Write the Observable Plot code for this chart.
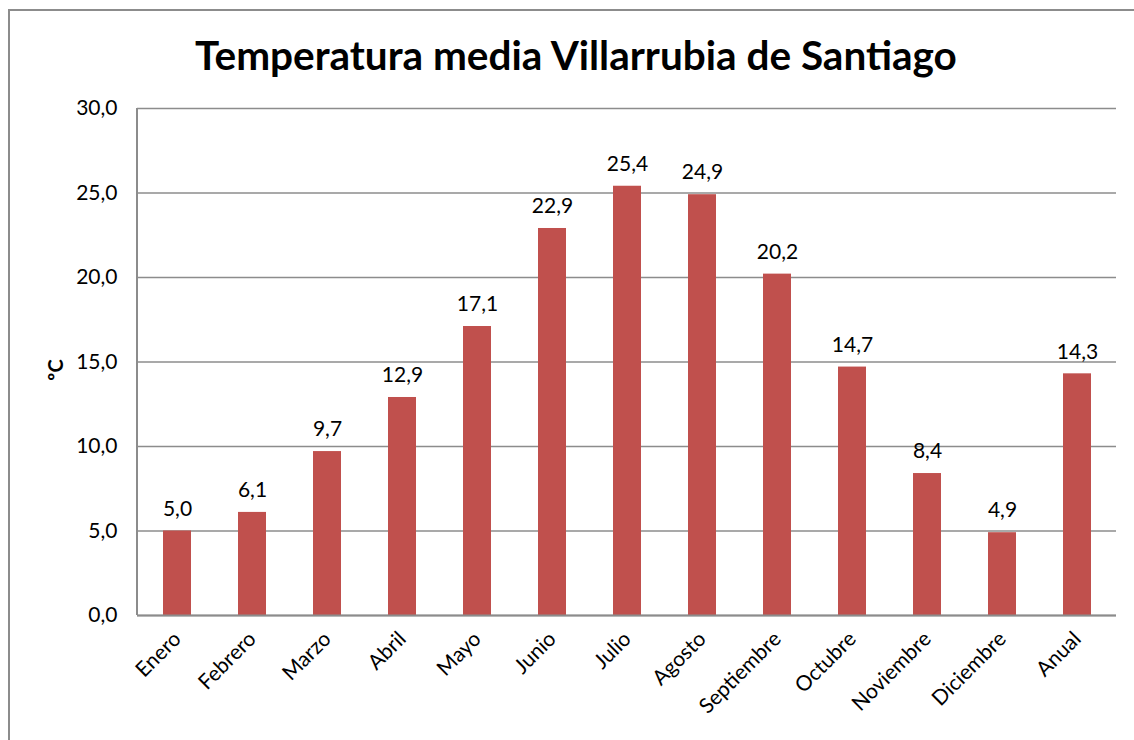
<!DOCTYPE html>
<html><head><meta charset="utf-8">
<script src="https://cdn.jsdelivr.net/npm/d3@7"></script>
<script src="https://cdn.jsdelivr.net/npm/@observablehq/plot@0.6"></script>
<style>
body{margin:0;background:#fff;font-family:Lato,sans-serif;}
#wrap{position:relative;width:1134px;height:740px;overflow:hidden;}
#frame{position:absolute;left:8px;top:9px;width:1140px;height:760px;border:2px solid #8c8c8c;box-sizing:border-box;}
#title{position:absolute;left:0;top:30px;width:1152px;text-align:center;font-family:Lato,sans-serif;font-weight:bold;font-size:40.5px;color:#000;}
#chart{position:absolute;left:0;top:0;}
#ylab{position:absolute;left:44px;top:370px;transform:translate(0,-50%) rotate(-90deg);transform-origin:center;font-weight:bold;font-size:20px;}
</style></head>
<body>
<div id="wrap">
<div id="frame"></div>
<div id="title">Temperatura media Villarrubia de Santiago</div>
<div id="chart"></div>
<div id="ylab">ºC</div>
</div>
<script>
const months = ["Enero","Febrero","Marzo","Abril","Mayo","Junio","Julio","Agosto","Septiembre","Octubre","Noviembre","Diciembre","Anual"];
const temps = [5.0,6.1,9.7,12.9,17.1,22.9,25.4,24.9,20.2,14.7,8.4,4.9,14.3];
const yTicks = [0,5,10,15,20,25,30];
const data = months.map((m,i)=>({mes:m, t:temps[i]}));
const fmt = v => v.toFixed(1).replace(".", ",");
const plot = Plot.plot({
  width:1134, height:740,
  marginLeft:137, marginRight:18, marginTop:108, marginBottom:125,
  style:{fontFamily:"Lato, sans-serif", fontSize:"21px", color:"#000", background:"transparent"},
  x:{domain:months, paddingInner:0.63, paddingOuter:0.315, label:null},
  y:{domain:[0,30], ticks:yTicks, label:null},
  marks:[
    Plot.gridY(yTicks,{stroke:"#8c8c8c", strokeOpacity:1, strokeWidth:1.5}),
    Plot.barY(data,{x:"mes", y:"t", fill:"#C0504D"}),
    Plot.text(data,{x:"mes", y:"t", text:d=>fmt(d.t), dy:-22, fontSize:21, fill:"#000"}),
    Plot.axisY(yTicks,{tickSize:0, tickPadding:20, tickFormat:fmt, fontSize:21, fill:"#000"}),
    Plot.axisX({tickSize:0, tickRotate:-45, tickPadding:20, fontSize:21, fill:"#000", label:null}),
    Plot.ruleY([0],{stroke:"#8c8c8c", strokeWidth:2}),
  ]
});
document.getElementById("chart").appendChild(plot);
// left axis line
const svg = d3.select(plot);
svg.append("line").attr("x1",137).attr("x2",137).attr("y1",108).attr("y2",615).attr("stroke","#8c8c8c").attr("stroke-width",2);
</script>
</body></html>
